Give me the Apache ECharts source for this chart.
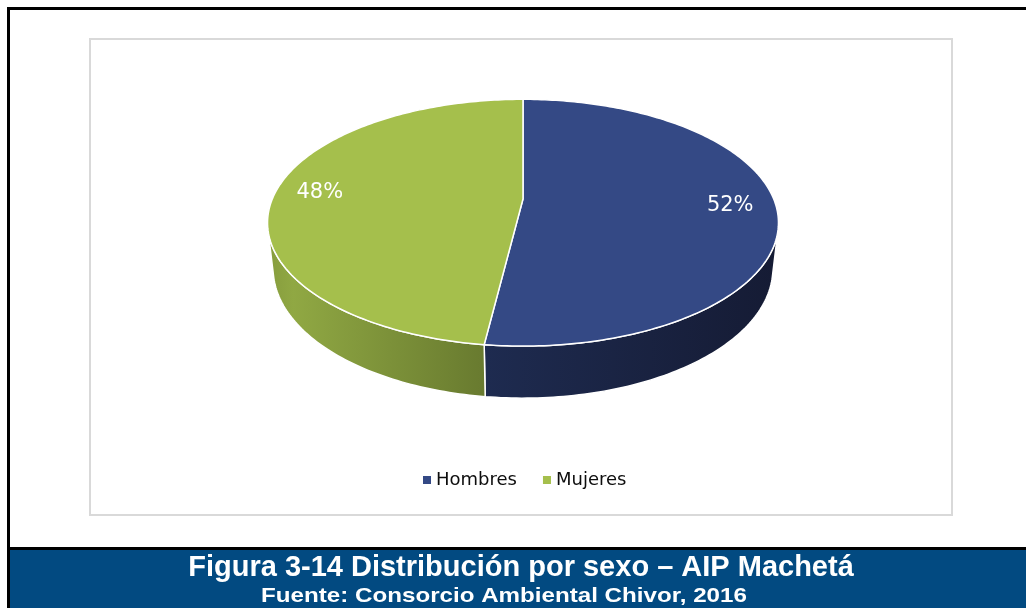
<!DOCTYPE html>
<html>
<head>
<meta charset="utf-8">
<script src="https://cdn.jsdelivr.net/npm/echarts@6/dist/echarts.min.js"></script>
<style>
  html, body { margin: 0; padding: 0; background: #fff; }
  #chart { width: 1026px; height: 608px; }
</style>
</head>
<body>
<div id="chart"></div>
<script>
// data
const categories = ['Hombres', 'Mujeres'];
const shares = [52, 48];          // percent
const labels = ['52%', '48%'];

// look
const topColors = ['#344985', '#a5bf4c'];
const wallStops = [
    [[0, '#1e2b50'], [1, '#151b34']],
    [[0, '#869c3d'], [0.12, '#90a843'], [1, '#687a2f']]
];

// fake 3D projection of the pie (tilted disk seen in perspective)
const CX = 523, CY = 199;      // projected centre of the top face
const SCALE = 250.7;           // radius in px at the centre depth
const SIN_A = 0.474, COS_A = 0.881;
const PERSP = 0.218;
const DEPTH = 0.21;            // wall height, in radii
const LABEL_R = 0.82;

function project(X, Y, Z) {
    const yp = Y * COS_A + Z * SIN_A;
    const zp = -Y * SIN_A + Z * COS_A;
    const w = 1 + PERSP * zp;
    return [CX + SCALE * X / w, CY - SCALE * yp / w];
}

function rim(deg, rho, y) {
    const a = deg * Math.PI / 180;
    return project(rho * Math.sin(a), y, rho * Math.cos(a));
}

const total = shares.reduce((a, b) => a + b, 0);
const startDeg = [];
let acc = 0;
shares.forEach(v => { startDeg.push(acc / total * 360); acc += v; });

function area(pts) {
    let s = 0;
    for (let i = 0; i < pts.length; i++) {
        const p = pts[i], q = pts[(i + 1) % pts.length];
        s += p[0] * q[1] - q[0] * p[1];
    }
    return s;
}

function quad(d1, d2) {
    return [rim(d1, 1, 0), rim(d2, 1, 0), rim(d2, 1, -DEPTH), rim(d1, 1, -DEPTH)];
}
const frontSign = Math.sign(area(quad(179, 181)));

function renderSlice(i) {
    const a0 = startDeg[i];
    const a1 = a0 + shares[i] / total * 360;
    const children = [];

    // outer wall, only the parts facing the viewer
    const runs = [];
    let run = null;
    const steps = Math.ceil(a1 - a0);
    for (let k = 0; k < steps; k++) {
        const d1 = a0 + (a1 - a0) * k / steps;
        const d2 = a0 + (a1 - a0) * (k + 1) / steps;
        if (Math.sign(area(quad(d1, d2))) === frontSign) {
            if (!run) { run = [d1]; runs.push(run); }
            run.push(d2);
        } else {
            run = null;
        }
    }
    runs.forEach(r => {
        const pts = r.map(d => rim(d, 1, 0));
        for (let k = r.length - 1; k >= 0; k--) pts.push(rim(r[k], 1, -DEPTH));
        children.push({
            type: 'polygon',
            z2: 1,
            shape: { points: pts },
            style: {
                fill: new echarts.graphic.LinearGradient(0, 0, 1, 0,
                    wallStops[i].map(s => ({ offset: s[0], color: s[1] }))),
                stroke: '#fff',
                lineWidth: 1.5
            }
        });
    });

    // top face
    const top = [project(0, 0, 0)];
    for (let d = a0; d < a1; d += 1) top.push(rim(d, 1, 0));
    top.push(rim(a1, 1, 0));
    children.push({
        type: 'polygon',
        z2: 10,
        shape: { points: top },
        style: { fill: topColors[i], stroke: '#fff', lineWidth: 1.5 }
    });

    // value label
    const lp = rim((a0 + a1) / 2, LABEL_R, 0);
    children.push({
        type: 'text',
        z2: 20,
        x: lp[0],
        y: lp[1],
        style: {
            text: labels[i],
            fill: '#fff',
            fontFamily: 'DejaVu Sans',
            fontSize: 21,
            align: 'center',
            verticalAlign: 'middle'
        }
    });
    return { type: 'group', children: children };
}

const chart = echarts.init(document.getElementById('chart'));

const option = {
    animation: false,
    color: topColors,
    legend: {
        data: categories,
        left: 418,
        top: 466,
        icon: 'rect',
        itemWidth: 8,
        itemHeight: 8,
        itemGap: 26,
        textStyle: { fontFamily: 'DejaVu Sans', fontSize: 18, color: '#0d0d0d' }
    },
    graphic: [
        // inner chart area
        { type: 'rect', shape: { x: 90, y: 39, width: 862, height: 476 },
          style: { fill: 'none', stroke: '#d9d9d9', lineWidth: 2 } },
        // frame
        { type: 'rect', shape: { x: 7, y: 7, width: 1019, height: 3 }, style: { fill: '#000' } },
        { type: 'rect', shape: { x: 7, y: 7, width: 3, height: 601 }, style: { fill: '#000' } },
        { type: 'rect', shape: { x: 7, y: 547, width: 1019, height: 3 }, style: { fill: '#000' } },
        { type: 'rect', shape: { x: 10, y: 550, width: 1016, height: 58 }, style: { fill: '#024a81' } },
        // caption
        { type: 'text', x: 521, y: 568,
          style: { text: 'Figura 3-14 Distribución por sexo – AIP Machetá', fill: '#fff',
                   fontFamily: 'Liberation Sans', fontWeight: 'bold', fontSize: 29,
                   align: 'center', verticalAlign: 'middle' } },
        { type: 'text', x: 504, y: 596, scaleX: 1.15,
          style: { text: 'Fuente: Consorcio Ambiental Chivor, 2016', fill: '#fff',
                   fontFamily: 'Liberation Sans', fontWeight: 'bold', fontSize: 21,
                   align: 'center', verticalAlign: 'middle' } }
    ],
    series: categories.map((name, i) => ({
        type: 'custom',
        name: name,
        coordinateSystem: 'none',
        silent: true,
        data: [shares[i]],
        itemStyle: { color: topColors[i] },
        renderItem: function () { return renderSlice(i); }
    }))
};

chart.setOption(option);
</script>
</body>
</html>
